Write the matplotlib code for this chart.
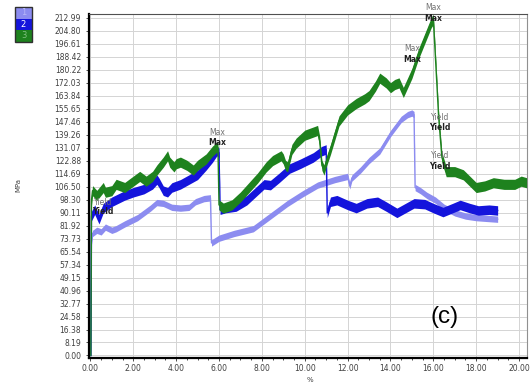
import matplotlib
matplotlib.use('Agg')
import matplotlib.pyplot as plt
import numpy as np

# --- данные ---
# серия 1 (светло-синяя)
x1 = [0.02, 0.05, 0.1, 0.3, 0.5, 0.7, 1.0, 1.2, 1.6, 2.2, 2.8, 3.1, 3.4, 3.8, 4.2, 4.6, 4.9, 5.3, 5.6,
      5.65, 6.0, 6.7, 7.3, 7.6, 8.0, 8.5, 9.2, 9.9, 10.6, 11.4, 12.0, 12.1, 12.2, 12.6, 13.0, 13.5,
      14.0, 14.5, 14.8, 15.0, 15.1, 15.15, 15.4, 15.7, 16.1, 16.5, 17.0, 17.5, 18.0, 18.5, 19.0]
y1 = [0, 72, 77, 79, 78, 81, 79, 80, 83, 87, 93, 96.5, 96, 93.5, 93, 93.5, 97, 99, 99.5,
      71, 74, 77, 79, 80, 84, 89, 96, 102, 107.5, 111, 113, 107, 112, 117, 123, 129,
      140, 149, 152, 153, 152, 106, 104, 101, 98, 93.5, 90, 88, 87, 86.5, 86]

# серия 2 (синяя)
x2 = [0.02, 0.05, 0.2, 0.4, 0.6, 0.8, 1.0, 1.3, 1.6, 2.0, 2.5, 2.9, 3.1, 3.2, 3.4, 3.6, 3.8, 4.2, 4.6,
      5.0, 5.4, 5.7, 5.9, 6.0, 6.05, 6.3, 6.8, 7.3, 7.7, 8.1, 8.4, 8.8, 9.3, 9.8, 10.4, 10.8, 11.0,
      11.05, 11.2, 11.5, 12.0, 12.4, 12.9, 13.4, 13.8, 14.3, 14.7, 15.1, 15.6, 16.0, 16.45, 16.9,
      17.25, 17.7, 18.1, 18.6, 19.0]
y2 = [0, 88, 92, 86, 93, 95, 97, 99, 101, 103, 105, 108, 111, 109, 104, 103, 106, 108, 111,
      114, 120, 125, 129, 128, 92, 93, 94, 98, 103, 108, 107.5, 112, 118, 121, 125, 129, 130,
      90, 97, 98, 95, 93, 96, 97, 94, 90, 93, 96, 95.5, 93, 90.5, 93,
      95, 93, 91.5, 92, 91.5]

# серия 3 (зелёная)
x3 = [0.02, 0.05, 0.1, 0.3, 0.6, 0.7, 1.0, 1.2, 1.6, 2.0, 2.3, 2.6, 2.9, 3.1, 3.4, 3.6, 3.7, 3.9, 4.0,
      4.2, 4.5, 4.8, 5.0, 5.4, 5.7, 5.9, 5.95, 6.0, 6.2, 6.6, 7.0, 7.4, 7.8, 8.2, 8.5, 8.9, 9.0, 9.1,
      9.2, 9.4, 9.6, 10.0, 10.4, 10.6, 10.7, 10.8, 10.9, 11.0, 11.2, 11.6, 12.0, 12.4, 12.8, 13.0,
      13.3, 13.5, 13.8, 14.0, 14.2, 14.4, 14.6, 14.8, 15.0, 15.3, 15.6, 15.9, 16.0, 16.05, 16.15,
      16.25, 16.4, 16.6, 17.0, 17.4, 17.7, 18.0, 18.4, 18.8, 19.3, 19.8, 20.1, 20.35]
y3 = [0, 98, 104, 101, 106, 103, 104, 108, 106, 110, 113, 110, 113, 117, 122, 126, 122, 119, 121,
      122, 120, 117, 120, 124, 129, 131.5, 131, 95, 93, 95, 100, 106, 112, 119, 123, 126, 124, 120,
      119, 130, 134, 139, 141, 142, 135, 120, 117, 122, 130, 148, 155, 159, 162, 164,
      170, 175, 172, 169, 171, 172, 166, 172, 178, 190, 200, 210, 212, 200, 175,
      150, 125, 116, 116, 114, 110, 106, 107, 109, 108, 108, 110, 109]

series_names = ['1', '2', '3']

y_ticks = [0.00, 8.19, 16.38, 24.58, 32.77, 40.96, 49.15, 57.34, 65.54, 73.73, 81.92, 90.11, 98.30,
           106.50, 114.69, 122.88, 131.07, 139.26, 147.46, 155.65, 163.84, 172.03, 180.22, 188.42,
           196.61, 204.80, 212.99]
x_ticks = [0, 2, 4, 6, 8, 10, 12, 14, 16, 18, 20]

# подписи Max / Yield (две строки: серая и чёрная)
ann_text = ['Max', 'Max', 'Max', 'Yield', 'Yield', 'Yield']
ann_x = [5.9, 15.97, 15.0, 16.3, 16.3, 0.6]
ann_y_grey = [140.6, 219.7, 193.7, 150.0, 126.3, 96.4]
ann_y_black = [134.3, 212.7, 186.8, 143.8, 119.3, 90.7]

COL1 = '#8c8cf0'
COL2 = '#1414dc'
COL3 = '#1e821e'

fig = plt.figure(figsize=(5.3, 3.82), dpi=100)
ax = fig.add_axes([88.7 / 530, 1 - 358 / 382, (527 - 88.7) / 530, (358 - 14) / 382])

for xs, ys, c, hw in [(x1, y1, COL1, 2.0), (x2, y2, COL2, 3.0), (x3, y3, COL3, 3.2)]:
    xs = np.array(xs)
    ys = np.array(ys)
    ax.fill_between(xs, ys - hw, ys + hw, color=c, lw=0, zorder=3)
    ax.plot(xs, ys, color=c, lw=1.0, zorder=3)

for t, x, yg, yb in zip(ann_text, ann_x, ann_y_grey, ann_y_black):
    ax.text(x, yg, t, fontsize=5.5, color='#707070', ha='center', va='center', zorder=5, clip_on=False)
    ax.text(x, yb, t, fontsize=5.5, color='#202020', ha='center', va='center', zorder=5,
            fontweight='bold', clip_on=False)

ax.set_xlim(-0.08, 20.37)
ax.set_ylim(-1.6, 215.5)
ax.set_yticks(y_ticks)
ax.set_yticklabels([f'{v:.2f}' for v in y_ticks])
ax.set_xticks(x_ticks)
ax.set_xticklabels([f'{v:.2f}' for v in x_ticks])
ax.set_xticks(np.arange(0, 20.01, 0.5), minor=True)
ax.tick_params(axis='both', labelsize=5.5, labelcolor='#404040', length=2, width=0.6, color='#303030')
ax.tick_params(axis='x', pad=2)
ax.tick_params(axis='x', which='minor', length=1.5, width=0.5)
ax.grid(True, color='#d4d4d4', lw=0.7, zorder=0)
ax.set_axisbelow(True)

ax.spines['left'].set_linewidth(1.6)
ax.spines['bottom'].set_linewidth(1.6)
ax.spines['top'].set_color('#505050')
ax.spines['top'].set_linewidth(0.8)
ax.spines['right'].set_color('#909090')
ax.spines['right'].set_linewidth(0.8)

fig.text(18 / 530, 1 - 185 / 382, 'MPa', rotation=90, fontsize=5, color='#404040',
         ha='center', va='center')
fig.text(310 / 530, 1 - 379.5 / 382, '%', fontsize=5, color='#404040', ha='center', va='center')
ax.text(0.813, 0.119, '(c)', transform=ax.transAxes, fontsize=17.5, family='Liberation Sans',
        ha='center', va='center', color='black')

# легенда-столбик в левом верхнем углу
leg_cols = [COL1, COL2, COL3]
txt_cols = ['#b8b8f8', 'white', '#7fc07f']
for i, (name, c, tc) in enumerate(zip(series_names, leg_cols, txt_cols)):
    y0 = 1 - (7 + 11.5 * (i + 1)) / 382
    fig.patches.append(plt.Rectangle((15 / 530, y0), 17 / 530, 11.5 / 382, transform=fig.transFigure,
                                     facecolor=c, edgecolor='none'))
    fig.text(23.5 / 530, y0 + 5.75 / 382, name, fontsize=6, color=tc, ha='center', va='center')
fig.patches.append(plt.Rectangle((15 / 530, 1 - 41.5 / 382), 17 / 530, 34.5 / 382,
                                 transform=fig.transFigure, facecolor='none', edgecolor='#303030', lw=1.0))

fig.savefig('out.png', dpi=100)
